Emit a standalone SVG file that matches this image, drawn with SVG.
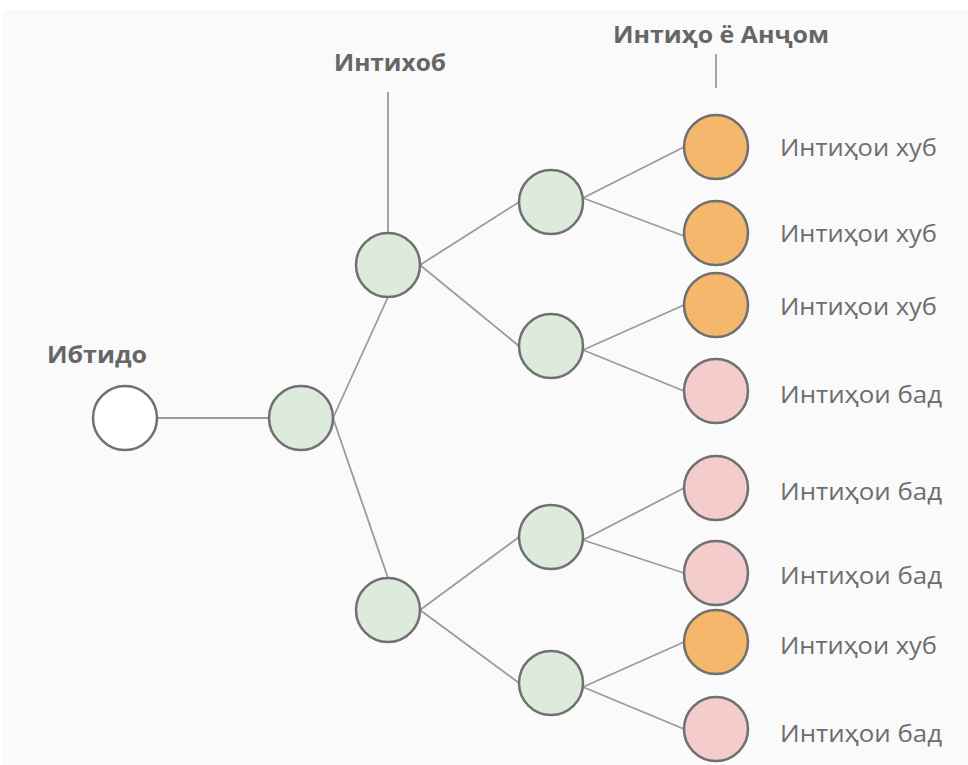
<svg xmlns="http://www.w3.org/2000/svg" width="968" height="765" viewBox="0 0 968 765">
<style>
.bg{fill:#fafafa}
.node{stroke:#707070;stroke-width:2.5}
.w{fill:#ffffff}
.g{fill:#dcebdc}
.o{fill:#f5b76b}
.p{fill:#f4cccc}
.edge{stroke:#9b9b9b;stroke-width:1.8;fill:none}
.lbl{font-family:"Open Sans","DejaVu Sans",sans-serif;font-size:23px;fill:#6e6e6e}
.hd{font-family:"Open Sans","DejaVu Sans",sans-serif;font-size:23px;font-weight:bold;fill:#666666}
</style>
<rect class="bg" x="3" y="10" width="965" height="755"/>
<g id="connectors">
<line class="edge" x1="388" y1="92" x2="388" y2="233"/>
<line class="edge" x1="716" y1="54" x2="716" y2="88"/>
<line class="edge" x1="157" y1="418" x2="269" y2="418"/>
<line class="edge" x1="333" y1="418" x2="388" y2="297"/>
<line class="edge" x1="333" y1="418" x2="388" y2="578"/>
<line class="edge" x1="420" y1="265" x2="519" y2="202"/>
<line class="edge" x1="420" y1="265" x2="519" y2="346"/>
<line class="edge" x1="420" y1="610" x2="519" y2="537"/>
<line class="edge" x1="420" y1="610" x2="519" y2="683"/>
<line class="edge" x1="583" y1="198" x2="684" y2="147"/>
<line class="edge" x1="583" y1="198" x2="684" y2="236"/>
<line class="edge" x1="583" y1="350" x2="684" y2="305"/>
<line class="edge" x1="583" y1="350" x2="684" y2="391"/>
<line class="edge" x1="583" y1="540" x2="684" y2="488"/>
<line class="edge" x1="583" y1="540" x2="684" y2="573"/>
<line class="edge" x1="583" y1="687" x2="684" y2="642"/>
<line class="edge" x1="583" y1="687" x2="684" y2="729"/>
</g>
<g id="label-intikhob"><text class="hd" x="334" y="71" textLength="112" lengthAdjust="spacingAndGlyphs">Интихоб</text></g>
<g id="label-end"><text class="hd" x="613" y="43" textLength="216" lengthAdjust="spacingAndGlyphs">Интиҳо ё Анҷом</text></g>
<g id="label-start"><text class="hd" x="47" y="363" textLength="100" lengthAdjust="spacingAndGlyphs">Ибтидо</text></g>
<g id="start"><circle class="node w" cx="125" cy="418" r="32"/></g>
<g id="n1"><circle class="node g" cx="301" cy="418" r="32"/></g>
<g id="n2a"><circle class="node g" cx="388" cy="265" r="32"/></g>
<g id="n2b"><circle class="node g" cx="388" cy="610" r="32"/></g>
<g id="n3a"><circle class="node g" cx="551" cy="202" r="32"/></g>
<g id="n3b"><circle class="node g" cx="551" cy="346" r="32"/></g>
<g id="n3c"><circle class="node g" cx="551" cy="537" r="32"/></g>
<g id="n3d"><circle class="node g" cx="551" cy="683" r="32"/></g>
<g id="leaf1"><circle class="node o" cx="716" cy="147" r="32"/><text class="lbl" x="780" y="156" textLength="157" lengthAdjust="spacingAndGlyphs">Интиҳои хуб</text></g>
<g id="leaf2"><circle class="node o" cx="716" cy="233" r="32"/><text class="lbl" x="780" y="242" textLength="157" lengthAdjust="spacingAndGlyphs">Интиҳои хуб</text></g>
<g id="leaf3"><circle class="node o" cx="716" cy="305" r="32"/><text class="lbl" x="780" y="315" textLength="157" lengthAdjust="spacingAndGlyphs">Интиҳои хуб</text></g>
<g id="leaf4"><circle class="node p" cx="716" cy="391" r="32"/><text class="lbl" x="780" y="403" textLength="162" lengthAdjust="spacingAndGlyphs">Интиҳои бад</text></g>
<g id="leaf5"><circle class="node p" cx="716" cy="488" r="32"/><text class="lbl" x="780" y="500" textLength="162" lengthAdjust="spacingAndGlyphs">Интиҳои бад</text></g>
<g id="leaf6"><circle class="node p" cx="716" cy="573" r="32"/><text class="lbl" x="780" y="584" textLength="162" lengthAdjust="spacingAndGlyphs">Интиҳои бад</text></g>
<g id="leaf7"><circle class="node o" cx="716" cy="642" r="32"/><text class="lbl" x="780" y="654" textLength="157" lengthAdjust="spacingAndGlyphs">Интиҳои хуб</text></g>
<g id="leaf8"><circle class="node p" cx="716" cy="729" r="32"/><text class="lbl" x="780" y="742" textLength="162" lengthAdjust="spacingAndGlyphs">Интиҳои бад</text></g>
</svg>
